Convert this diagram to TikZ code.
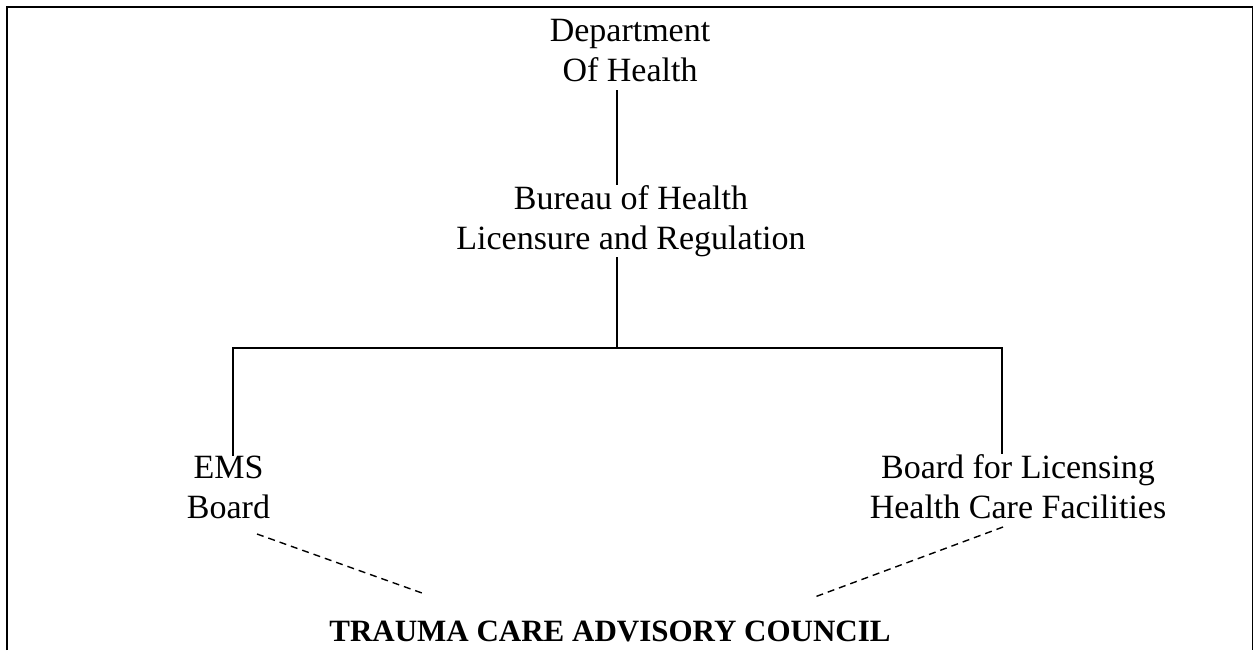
\documentclass[tikz,border=0pt]{standalone}
\usepackage{fontspec}
\setmainfont{Liberation Serif}
\usetikzlibrary{positioning, calc}
\tikzstyle{unit}=[inner sep=0pt, anchor=north, align=center, font=\fontsize{17}{20}\selectfont]
\tikzstyle{council}=[inner sep=0pt, anchor=north, font=\fontsize{15.5}{18}\selectfont\bfseries]
\tikzstyle{link}=[line width=0.7pt]
\tikzstyle{advise}=[line width=0.7pt, dash pattern=on 3.5pt off 2.5pt]
\tikzstyle{frame}=[line width=1.2pt]

\begin{document}
\begin{tikzpicture}[x=0.5pt, y=-0.5pt]
\useasboundingbox (0,0) rectangle (1253,650);
\draw[frame] (7,650) -- (7,7) -- (1253,7);
\draw[line width=0.5pt] (1252,7) -- (1252,650);

\node[unit] at (630,19)(doh){Department\\Of Health};
\node[unit] at (631,185)(bhlr){Bureau of Health\\Licensure and Regulation};
\node[unit] at (228.5,455.5)(ems){EMS\\Board};
\node[unit] at (1018,454)(blhcf){Board for Licensing\\Health Care Facilities};
\node[council] at (610,621)(tcac){TRAUMA CARE ADVISORY COUNCIL};

\coordinate (split) at (617,348);
\coordinate (emsleg) at (233,348);
\coordinate (blhcfleg) at (1002,348);

\draw[link, shorten <=4pt] (doh.south -| split) -- (bhlr.north -| split);
\draw[link] (bhlr.south -| split) -- (split);
\draw[link] (emsleg |- ems.north) -- (emsleg) -- (blhcfleg) -- (blhcfleg |- blhcf.north);

% dashed advisory links
\coordinate (emsfoot) at (257,534);
\coordinate (tcacL) at (422,593);
\coordinate (blhcffoot) at (1003,527);
\coordinate (tcacR) at (812,598);
\draw[advise] (emsfoot) -- (tcacL);
\draw[advise] (blhcffoot) -- (tcacR);

\end{tikzpicture}
\end{document}
